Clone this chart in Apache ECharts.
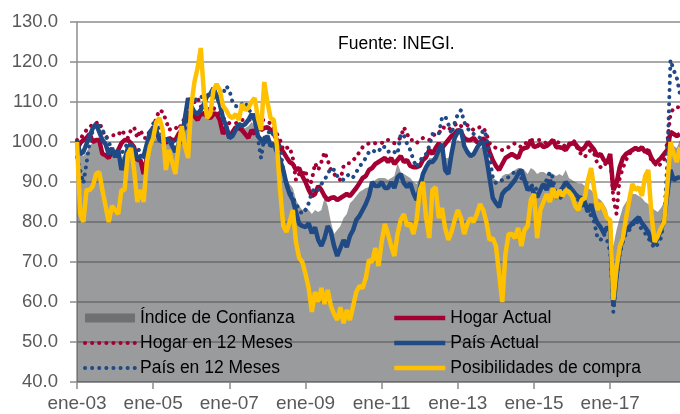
<!DOCTYPE html>
<html lang="es">
<head>
    <meta charset="UTF-8">
    <title>confianza</title>
    <script src="https://cdn.jsdelivr.net/npm/echarts@6/dist/echarts.min.js"></script>
    <style>
        body{margin:0;background:#fff}
        #main{width:680px;height:414px}
    </style>
</head>
<body>
    <div id="main"></div>
    <script>
        var meses=['ene','feb','mar','abr','may','jun','jul','ago','sep','oct','nov','dic'];
        var anios=['03','04','05','06','07','08','09','10','11','12','13','14','15','16','17','18'];
        var yTicks=[40,50,60,70,80,90,100,110,120,130];

        //Índice de Confianza (área gris)
        var indice=[
            98,97,96.5,97.5,99,100,100.5,100,98,97,96,96.5,
            96.5,97,96,97,98.5,99,98,95.5,96,95,97,99.5,
            101,101,100,100,99.5,100,100,99,100,101,103,106,
            107,107,106.5,107,107.5,108,108,108.5,107.5,106.5,104,104,
            102,102.5,103.5,104,103.5,103.5,104,105,104,102.5,101,101.5,
            102,100.5,100,98,96,93.5,91,89.5,88.5,85.5,84,83,
            83.7,83,82,83,82.5,83,86,84,80,77,78,79,
            81,82,84.7,85.5,86.5,87.5,88,88.5,88.7,89.7,90.5,91,
            91,91,90.5,91,91.5,94.7,92.5,92,91.5,91,90,89.5,
            91,93,94.5,96,96,97,98,98.5,96,96,97,99.5,
            100.5,100,98,97.5,97,97.5,98,98.5,99,97,94,91,
            90.5,90,91.5,92,92,92.5,93,93.5,93.5,93,92,93.5,
            93,92,92.5,92.5,92,92.5,92,91.5,92,91.5,93,91,
            90.5,90,89.7,89.7,89,88.5,88,87,86,85.5,84.5,83,
            78.7,74,78,81,83.7,85,86,87,87,86.5,86,85,
            84.5,83.7,83,82.5,83.5,85,93.7,100.5,99,98.5,100.5
        ];
        var hogarActual=[
            98,99.7,100.5,101,102,100,100.5,100.5,97,96.7,96,97.5,
            97,98,99.7,100.5,100.5,99.7,98.7,95.5,95.5,92,96,99.7,
            103,102,101,100.5,99.7,101,100.5,100.5,102,103,105,106.5,
            108,106.5,105.5,107,107,106.5,106,107,107,105.5,102,103.7,
            101,102.5,103.7,103.5,103,102,101,103,102,104.7,103,103.5,
            103.7,103,102,100.5,98.5,97.5,96.2,95,94.5,93,93.5,91.5,
            90,88,86.5,87,89,88,86.5,85.5,86,86.2,85.5,86,
            86.5,87,86.5,87.5,88.5,89.7,91,91.5,93,93.5,94.5,95,
            95.5,96,95,96,94.5,95.5,96.5,95,95.5,94,93.7,93.7,
            94,95.5,96.2,98,97,98.5,99.7,98.5,99.5,100.5,101.5,102,
            103,102.5,101,100.5,100.5,101,100,99.7,101,100,97.5,95.5,
            94,93,94.5,96,96.5,97,96.5,96,98,98.5,98.7,100.5,
            98.7,99,99.5,98.7,99,99.7,100.5,98.7,98.7,98.5,98,99.2,
            99.7,99.5,98.5,98,98.7,100,99,98,96.5,97,95.5,94.7,
            97,88,89.7,93.7,96,97,97.5,98,98.5,98,98.7,97.5,
            98,96,94.7,95.2,96,97,98,102.5,102,101.5,102
        ];
        var hogar12=[
            100.5,100.5,102,103,103.5,104.7,104.7,105,103,101,101.5,101.7,
            101.7,101.7,103,102,101,103,103.7,101,103,101,101,103,
            103.7,106,108,107.5,105.5,103,103.5,103.7,103,104.7,106,107.5,
            108.7,110,111,109,107,108,108.7,108.5,108,107,106,105.5,
            104.7,104.7,104.7,105,105.5,105.5,105.5,105.7,106,105.7,105.5,105.5,
            105,104.7,103.5,102,100.5,98,98.5,98.7,96,90.5,92,91.5,
            93,88.5,90.5,94.7,93,95,97.5,95.5,93,92,91.2,90.5,
            94,94.7,94.7,95.5,96.2,97.5,98.7,99.2,99.7,99.5,99.7,99.7,
            99.7,100.5,100.5,100,99.7,100.5,101,103.7,102,100.5,100.5,99.7,
            100.5,101,101,100.5,101.5,102,102,103.7,103.5,103,103.7,104.2,
            104.7,104,103.7,104.2,103.5,103,103.5,103.7,103.7,102,99.7,99,
            98.5,98.2,98,98.5,98.7,99.2,99.7,99.2,98.7,99.5,100,100.5,
            100.5,100.5,100.5,100,99.7,100,100.5,100.2,99.7,99.5,98.7,99.5,
            100.5,100,97.5,97,96.2,97.5,98,97,94.5,93.7,93.7,95.5,
            96,86,82,91,93.5,95.5,97,98,98.5,98.7,98.2,98,
            97,95.5,94.7,93.7,94.7,95.5,100,107,108.5,108.7,108.7
        ];
        var paisActual=[
            100.5,97,97.5,99.5,101.5,103.5,104.5,102.5,100.5,99.5,97,98.5,
            96.2,98,93,95.5,98.5,99.5,98,95.7,96.5,96.5,99.5,102.5,
            103.5,103,100.5,100,100.7,100.5,99,97.5,99.5,100.5,106,111,
            109,107.5,107,108,109.5,111.5,112,113.5,111.5,109.5,106,104,
            101,101.5,103,104.5,104,104.5,105.5,107,105.5,101.5,100.5,99.7,
            101.5,99,99.5,97.5,95.5,93,89.5,87,85.5,82.5,79.5,79,
            78.7,79.7,77.2,78.7,75.5,74,76,79,77.5,74,71.5,73.5,
            75.5,73.7,76.5,78,80.5,81.5,83,84.5,86.5,90,89,89,
            90,88.5,88.5,90,88.5,91.2,92,89.7,88.7,89.7,87.2,85.5,
            88.5,92,93.7,95,95,96,98,99.5,93,92,97,101,
            102.5,103,99,97.5,96.5,97,98.5,99.7,100,96,91,86,
            84.7,83.7,87,88,88.5,89.5,90.5,92,93,90.5,88,88.7,
            87.2,86.2,88,89.5,88,90.5,88.5,86.5,87.5,88.5,90,89,
            88,87,86.2,86,85,82.5,84.5,81.5,79.7,78.7,77.2,78.7,
            78,59,66.5,73,76,78,78.7,79.7,80.5,81.2,79.7,78.7,
            77.5,75.5,74.7,76,78,80.5,87,93,90.5,91,91.2
        ];
        var pais12=[
            96.2,93,89.7,94.7,100,103,104.7,104,103,101.5,100,98,
            97,96.5,97,98.5,99.7,98.5,96.5,98.5,97.5,95.5,99,101,
            104.7,104,103.5,101.5,100.7,100.5,100,99.7,101,102.5,103,108,
            111,110.7,110.5,111,112,111.5,111,111,111,111.5,112,114,
            113,110,109,108.7,109.5,110,108,107.5,107,101,96,101,
            102,103,101.5,100.5,98.7,93,89,88,86,84.7,83,82,
            83,84.7,87.5,88.5,88,89.5,90.5,92,93.5,93,91.5,91,
            90.5,91.5,92,91.2,92.5,93.7,95,96,97.5,98,97.5,97.5,
            99,98.7,97.5,98,97.5,97,102,101.7,99.5,98,95.5,93.7,
            95,96.5,97,99,102,102,102,106,106.5,104.5,102,104.7,
            107,108,105,103.5,102.5,102,101.5,101,103,101.5,96.2,91.2,
            89.7,90,90.5,91,91.2,92,92.5,93,91,90,89.7,89.7,
            88,88.5,88.5,89.5,90.5,92.5,91,86,85.5,87.2,88.5,88.2,
            87.5,86.5,85.5,84.5,83,83,81.5,80,76,75.5,77,75.5,
            72.5,57.5,66,72,75,77.2,78,79,80.5,79.5,78,77.2,
            76,74.7,73.5,74.5,76,80.5,95,120.5,118,116,112
        ];
        var compra=[
            100,82,80,88,88,89,92,92.5,88,84,80,84,
            83,82,88,88,97,98.5,93,85,88,85,95,99,
            101,105,106,103,93,98,95,92,99,104,99,96,
            109,115,118.5,123.5,112,106,107,113,114.5,113,109,108,
            106.5,106,107,105.5,109.5,108,108.5,110,111,106,103,115,
            110,106,105.5,99,88,79,77.5,80,83,75,71,70,
            67,63.5,57.5,62.5,60,63.5,59.5,63,59,57,55.5,58.7,
            54.7,58,55.5,59,62.5,64,63.5,66,70.5,70,73.5,69,
            75,79.5,77,74,71.5,77,80.5,82,79,79.7,77,80.5,
            88,90,81,76,88,88.7,81,83.5,78.5,75.5,77.5,80.5,
            83,81,77,79.5,81,80,82,84.5,83,80,75.5,76,
            74,67,60,72,77,77,76,78.5,74,78,79,85.5,
            87,76,83,85,87,85,88.5,86,88,86.5,88,87.5,
            86.5,84,83,85.5,86,90.5,93.5,88,83,84.7,83,81,
            80.5,60.5,68.5,73.7,76,81,85.5,89.5,88,88.7,86.5,91.5,
            93,82,75,76.5,78.5,80,89,100,97,95,98.7
        ];

        var fechas=[];
        for(var a=0;a<anios.length;a++){
            for(var m=0;m<12;m++){
                if(fechas.length<compra.length) fechas.push(meses[m]+'-'+anios[a]);
            }
        }

        var rojo='#a50034', azul='#1f4a85', amarillo='#ffc000';
        var dots=[0.1,7];
        var fuente='Liberation Sans';

        var mychart = echarts.init(document.getElementById('main'));
        var option={
            animation:false,
            title:{
                text:'Fuente: INEGI.',
                left:333,
                top:30,
                textStyle:{fontFamily:fuente,fontSize:17.5,fontWeight:'normal',color:'#000'}
            },
            grid:{left:77,right:0,top:22,bottom:32},
            legend:[
                {
                    orient:'vertical',left:83,top:309,padding:0,itemWidth:50,itemHeight:9,itemGap:7,
                    itemStyle:{opacity:0},
                    lineStyle:{width:4},
                    textStyle:{fontFamily:fuente,fontSize:17.5,color:'#000',lineHeight:18},
                    data:[
                        {name:'Índice de Confianza',icon:'rect',itemStyle:{color:'#6e7072',opacity:1}},
                        {name:'Hogar en 12 Meses'},
                        {name:'País en 12 Meses'}
                    ]
                },
                {
                    orient:'vertical',left:392,top:309,padding:0,itemWidth:51,itemHeight:9,itemGap:7,
                    itemStyle:{opacity:0},
                    lineStyle:{width:4.5},
                    textStyle:{fontFamily:fuente,fontSize:17.5,color:'#000',lineHeight:18},
                    data:['Hogar Actual','País Actual','Posibilidades de compra']
                }
            ],
            xAxis:{
                type:'category',
                boundaryGap:false,
                data:fechas,
                axisLine:{lineStyle:{color:'#8c8c8c',width:1.5}},
                axisTick:{
                    interval:function(i){return i%24===0;},
                    length:7,
                    lineStyle:{color:'#8c8c8c',width:1.5}
                },
                axisLabel:{
                    interval:function(i){return i%24===0;},
                    fontFamily:fuente,fontSize:19,color:'#595959',margin:12
                },
                splitLine:{show:false}
            },
            yAxis:{
                type:'value',
                min:yTicks[0],
                max:yTicks[yTicks.length-1],
                interval:10,
                axisLine:{show:true,lineStyle:{color:'#8c8c8c',width:1.5}},
                axisTick:{show:true,length:7,lineStyle:{color:'#8c8c8c',width:1.5}},
                axisLabel:{
                    formatter:function(v){return v.toFixed(1);},
                    fontFamily:fuente,fontSize:18.5,color:'#595959',margin:19
                },
                splitLine:{lineStyle:{color:'#8c8c8c',width:1.5}}
            },
            series:[
                {
                    name:'Índice de Confianza',type:'line',data:indice,symbol:'none',
                    lineStyle:{width:0},
                    itemStyle:{color:'#6e7072'},
                    areaStyle:{color:'rgba(78,80,82,0.57)',opacity:1}
                },
                {
                    name:'Hogar Actual',type:'line',data:hogarActual,symbol:'none',
                    itemStyle:{color:rojo},lineStyle:{color:rojo,width:4.5}
                },
                {
                    name:'Hogar en 12 Meses',type:'line',data:hogar12,symbol:'none',
                    itemStyle:{color:rojo},lineStyle:{color:rojo,width:4,type:dots,cap:'round'}
                },
                {
                    name:'País Actual',type:'line',data:paisActual,symbol:'none',
                    itemStyle:{color:azul},lineStyle:{color:azul,width:4.5}
                },
                {
                    name:'País en 12 Meses',type:'line',data:pais12,symbol:'none',
                    itemStyle:{color:azul},lineStyle:{color:azul,width:4,type:dots,cap:'round'}
                },
                {
                    name:'Posibilidades de compra',type:'line',data:compra,symbol:'none',
                    itemStyle:{color:amarillo},lineStyle:{color:amarillo,width:4.5}
                }
            ]
        };
        mychart.setOption(option);
    </script>
</body>
</html>
